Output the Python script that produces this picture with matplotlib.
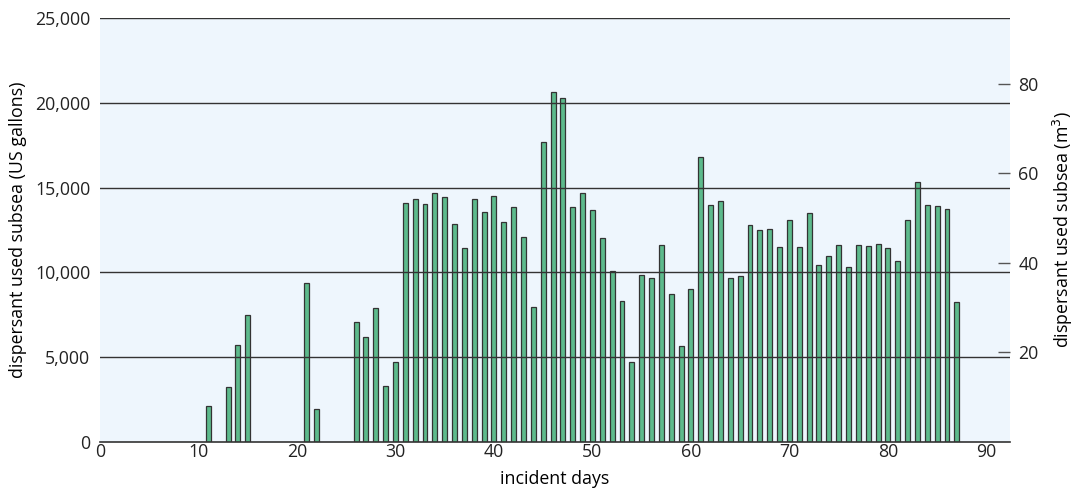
import matplotlib
matplotlib.use("Agg")
import matplotlib.pyplot as plt
from matplotlib.ticker import FuncFormatter

# ---- data (day -> US gallons) ----
days = [11, 13, 14, 15, 21, 22, 26, 27, 28, 29, 30,
        31, 32, 33, 34, 35, 36, 37, 38, 39, 40,
        41, 42, 43, 44, 45, 46, 47, 48, 49, 50,
        51, 52, 53, 54, 55, 56, 57, 58, 59, 60,
        61, 62, 63, 64, 65, 66, 67, 68, 69, 70,
        71, 72, 73, 74, 75, 76, 77, 78, 79, 80,
        81, 82, 83, 84, 85, 86, 87]
gallons = [2100, 3260, 5700, 7470, 9360, 1960, 7100, 6170, 7880, 3300, 4740,
           14070, 14350, 14010, 14660, 14430, 12870, 11420, 14310, 13580, 14500,
           12990, 13840, 12110, 7960, 17710, 20620, 20260, 13840, 14660, 13660,
           12030, 10060, 8330, 4720, 9830, 9670, 11640, 8710, 5640, 9040,
           16820, 13980, 14190, 9670, 9790, 12780, 12480, 12580, 11480, 13110,
           11480, 13500, 10440, 10990, 11600, 10320, 11600, 11560, 11670, 11420,
           10670, 13110, 15330, 13950, 13900, 13720, 8270]

gal_ticks = [0, 5000, 10000, 15000, 20000, 25000]
m3_ticks = [20, 40, 60, 80]
day_ticks = [0, 10, 20, 30, 40, 50, 60, 70, 80, 90]
GAL_PER_M3 = 264.172

plt.rcParams['font.family'] = ['Open Sans', 'DejaVu Sans']
FS = 12.8

fig = plt.figure(figsize=(10.8, 4.91), dpi=100)
ax = fig.add_axes([0.0926, 0.0998, 0.8426, 0.8635])
ax.set_facecolor('#eef6fd')

ax.bar(days, gallons, width=0.5, color='#5dba8c', edgecolor='#333333',
       linewidth=0.9, zorder=2)

# horizontal rules over the bars
for v in gal_ticks[1:]:
    ax.axhline(v, color='#333333', linewidth=1.0, zorder=3)

ax.set_xlim(0, 92.4)
ax.set_ylim(0, 25000)
ax.set_xticks(day_ticks)
ax.set_yticks(gal_ticks)
ax.yaxis.set_major_formatter(FuncFormatter(lambda v, p: f"{int(v):,}"))
ax.tick_params(axis='both', length=0, labelsize=FS, colors='#222222')
ax.tick_params(axis='y', pad=7)
ax.tick_params(axis='x', pad=1)
for s in ['top', 'left', 'right']:
    ax.spines[s].set_visible(False)
ax.spines['bottom'].set_color('#333333')
ax.spines['bottom'].set_linewidth(1.2)
ax.spines['bottom'].set_zorder(4)

ax.set_xlabel('incident days', fontsize=FS, labelpad=6)
ax.set_ylabel('dispersant used subsea (US gallons)', fontsize=FS, labelpad=6)

# right axis in cubic metres
ax2 = ax.twinx()
ax2.set_ylim(0, 25000 / GAL_PER_M3)
ax2.set_yticks(m3_ticks)
ax2.tick_params(axis='y', direction='in', length=9, width=1, color='#555555',
                labelsize=FS, pad=6, labelcolor='#222222')
for s in ax2.spines.values():
    s.set_visible(False)
ax2.set_ylabel('dispersant used subsea (m$^3$)', fontsize=FS, labelpad=9)

fig.savefig('out.png', dpi=100)
